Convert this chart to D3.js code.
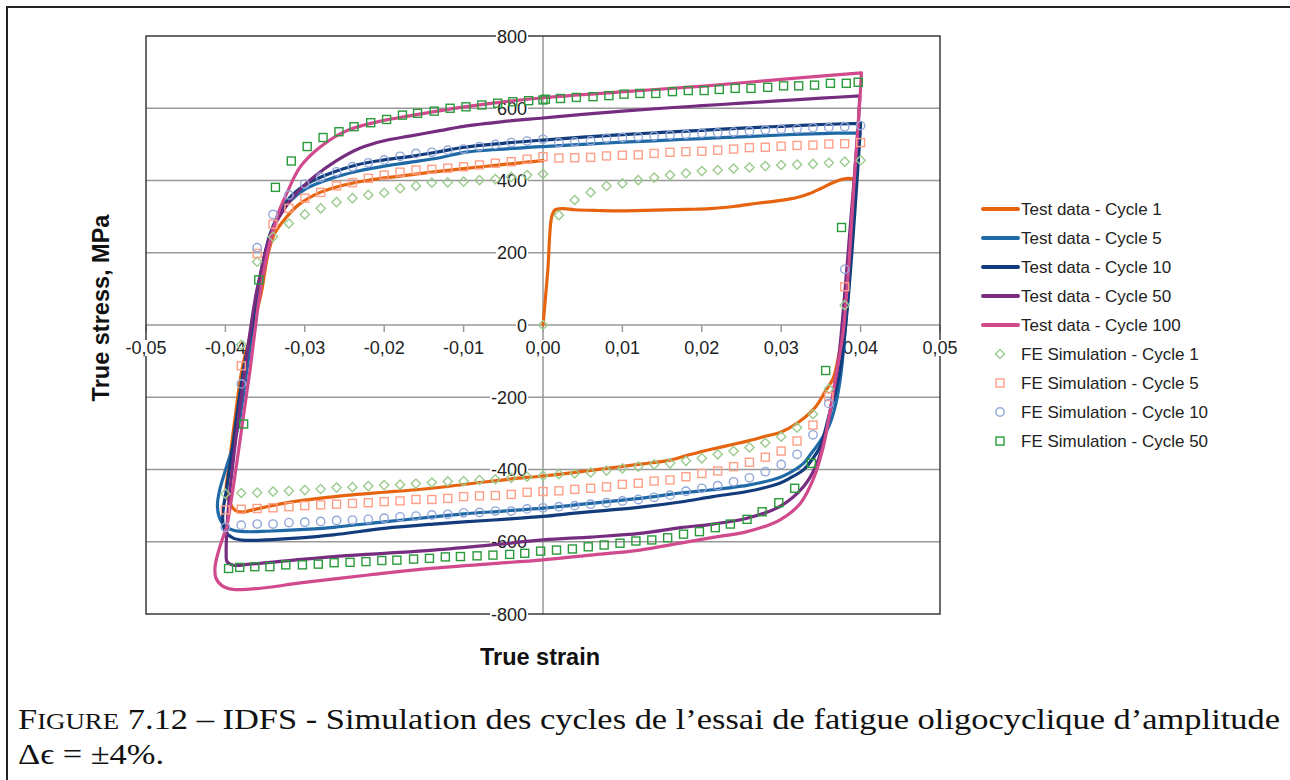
<!DOCTYPE html>
<html><head><meta charset="utf-8">
<script src="https://cdn.jsdelivr.net/npm/d3@7"></script>
<style>body{margin:0;background:#fff}svg{display:block}</style>
</head><body><svg id="c" width="1290" height="780"></svg>
<script>
// ---- tick labels / axes ----
const xTicks = [-0.05,-0.04,-0.03,-0.02,-0.01,0,0.01,0.02,0.03,0.04,0.05];
const xTickLabels = ["-0,05","-0,04","-0,03","-0,02","-0,01","0,00","0,01","0,02","0,03","0,04","0,05"];
const yTicks = [-800,-600,-400,-200,0,200,400,600,800];
const xTitle = "True strain";
const yTitle = "True stress, MPa";
const seriesNames = ["Test data - Cycle 1","Test data - Cycle 5","Test data - Cycle 10","Test data - Cycle 50","Test data - Cycle 100",
  "FE Simulation - Cycle 1","FE Simulation - Cycle 5","FE Simulation - Cycle 10","FE Simulation - Cycle 50"];

// ---- test data (strain, stress MPa) ----
const test1 = [[0,0],[0.0006,150],[0.0011,300],[0.0015,318],[0.0025,322],[0.004,319],[0.007,317],[0.010,316],[0.014,318],[0.018,320],[0.021,322],[0.024,328],[0.027,337],[0.030,345],[0.032,353],[0.0335,363],[0.035,378],[0.0365,394],[0.0378,404],[0.0388,405],[0.0393,400],
 [0.0389,300],[0.0383,130],[0.0378,0],[0.0372,-90],[0.0365,-150],[0.0357,-178],[0.0348,-212],[0.034,-235],[0.032,-272],[0.030,-296],[0.028,-308],[0.026,-320],[0.024,-330],[0.022,-340],[0.020,-350],[0.018,-362],[0.016,-374],[0.012,-386],[0.008,-397],[0.004,-408],[0,-418],
 [-0.004,-426],[-0.008,-436],[-0.012,-447],[-0.016,-456],[-0.020,-463],[-0.024,-470],[-0.028,-479],[-0.032,-491],[-0.035,-504],[-0.0368,-513],[-0.0378,-518],[-0.0387,-514],[-0.0394,-495],[-0.0399,-455],
 [-0.0396,-400],[-0.0388,-260],[-0.0378,-110],[-0.0365,0],[-0.0355,87],[-0.0346,200],[-0.0338,253],[-0.0323,299],[-0.0306,336],[-0.0285,363],[-0.026,382],[-0.0222,400],[-0.018,412],[-0.014,423],[-0.010,433],[-0.006,442],[-0.002,451],[0,455]];
const test5 = [[-0.0382,-263],[-0.0373,-125],[-0.0365,0],[-0.0358,100],[-0.0349,200],[-0.0335,296],[-0.0319,342],[-0.0298,378],[-0.0268,405],[-0.0235,425],[-0.020,440],[-0.0168,450],[-0.013,463],[-0.0099,478],[-0.005,487],[0,494],[0.005,500],[0.010,506],[0.015,511],[0.020,516],[0.025,521],[0.030,526],[0.035,530],[0.0399,532],
 [0.0395,420],[0.0388,200],[0.0381,0],[0.0375,-140],[0.0368,-225],[0.036,-280],[0.0349,-322],[0.0338,-355],[0.0328,-383],[0.031,-410],[0.0298,-422],[0.0275,-436],[0.0257,-444],[0.0214,-456],[0.0173,-465],[0.014,-475],[0.010,-485],[0.005,-496],[0,-507],
 [-0.005,-515],[-0.010,-523],[-0.0138,-531],[-0.020,-545],[-0.0264,-560],[-0.030,-566],[-0.0348,-571],[-0.0375,-572],[-0.039,-568],[-0.0401,-556],[-0.0408,-530],[-0.0410,-495],[-0.0407,-455],[-0.0399,-395],[-0.0391,-340],[-0.0382,-263]];
const test10 = [[-0.0385,-240],[-0.0376,-110],[-0.0366,0],[-0.0359,100],[-0.0351,190],[-0.0344,250],[-0.0334,302],[-0.032,350],[-0.0298,390],[-0.0268,420],[-0.0235,443],[-0.020,457],[-0.0168,466],[-0.013,480],[-0.0099,492],[-0.005,503],[0,512],[0.005,520],[0.010,527],[0.015,533],[0.020,539],[0.025,545],[0.030,550],[0.035,555],[0.0400,558],
 [0.0397,450],[0.039,230],[0.0383,40],[0.0376,-100],[0.0369,-180],[0.0361,-244],[0.0349,-337],[0.0338,-375],[0.0328,-401],[0.031,-425],[0.0298,-438],[0.0257,-461],[0.0214,-475],[0.0173,-490],[0.012,-505],[0.008,-513],[0.004,-521],[0,-530],
 [-0.005,-538],[-0.010,-545],[-0.0138,-551],[-0.020,-563],[-0.0264,-581],[-0.031,-590],[-0.0348,-595],[-0.0375,-596],[-0.039,-590],[-0.0399,-575],[-0.0403,-550],[-0.0403,-515],[-0.0399,-460],[-0.0392,-355],[-0.0385,-240]];
const test50 = [[-0.0394,-450],[-0.0386,-300],[-0.0377,-150],[-0.0369,-20],[-0.0361,90],[-0.0355,150],[-0.035,200],[-0.0342,258],[-0.0332,300],[-0.0315,354],[-0.0289,409],[-0.026,455],[-0.023,490],[-0.020,510],[-0.0168,523],[-0.013,538],[-0.010,550],[-0.005,563],[0,573],[0.005,583],[0.010,592],[0.015,600],[0.020,607],[0.025,614],[0.030,621],[0.035,628],[0.0399,634],
 [0.0396,520],[0.0388,300],[0.0379,60],[0.0372,-100],[0.0364,-210],[0.0357,-291],[0.0345,-383],[0.0328,-448],[0.0298,-503],[0.0257,-535],[0.0214,-551],[0.0173,-561],[0.0122,-577],[0.006,-587],[0,-595],
 [-0.007,-610],[-0.0138,-623],[-0.020,-632],[-0.0264,-641],[-0.032,-652],[-0.0369,-662],[-0.0390,-665],[-0.0398,-655],[-0.0399,-632],[-0.0398,-560],[-0.0394,-450]];
const test100 = [[-0.0398,-558],[-0.039,-448],[-0.0378,-263],[-0.0369,-125],[-0.0363,-20],[-0.0357,80],[-0.0347,200],[-0.0335,300],[-0.0323,363],[-0.0306,437],[-0.0281,492],[-0.0247,538],[-0.0201,566],[-0.0168,579],[-0.0099,604],[0,629],[0.0103,646],[0.0206,662],[0.030,680],[0.0401,698],
 [0.0399,620],[0.0392,400],[0.0384,130],[0.0378,-20],[0.0373,-90],[0.0368,-152],[0.0361,-244],[0.0353,-337],[0.034,-429],[0.0324,-494],[0.0298,-540],[0.0257,-572],[0.0214,-588],[0.0173,-604],[0.0122,-623],[0.006,-637],[0,-650],
 [-0.0138,-673],[-0.022,-692],[-0.0306,-714],[-0.0345,-726],[-0.0369,-731],[-0.039,-732],[-0.0404,-722],[-0.0412,-700],[-0.0413,-669],[-0.0407,-614],[-0.0398,-558]];

// ---- FE simulation (strain, stress MPa) ----
const fe1 = [[0,0],[0.002,304],[0.004,346],[0.006,367],[0.008,385],[0.010,392],[0.012,401],[0.014,408],[0.016,415],[0.018,420],[0.020,426],[0.022,429],[0.024,433],[0.026,436],[0.028,440],[0.030,443],[0.032,444],[0.034,446],[0.036,449],[0.038,452],[0.040,456],
 [0.038,55],[0.036,-177],[0.034,-247],[0.032,-284],[0.030,-309],[0.028,-326],[0.026,-339],[0.024,-349],[0.022,-358],[0.020,-369],[0.018,-376],[0.016,-383],[0.014,-386],[0.012,-392],[0.010,-397],[0.008,-403],[0.006,-408],[0.004,-411],[0.002,-413],[0,-417],
 [-0.002,-420],[-0.004,-423],[-0.006,-427],[-0.008,-429],[-0.010,-432],[-0.012,-433],[-0.014,-436],[-0.016,-439],[-0.018,-442],[-0.020,-443],[-0.022,-446],[-0.024,-449],[-0.026,-450],[-0.028,-454],[-0.030,-457],[-0.032,-459],[-0.034,-461],[-0.036,-464],[-0.038,-465],[-0.040,-467],
 [-0.038,-55],[-0.036,175],[-0.034,244],[-0.032,281],[-0.030,306],[-0.028,323],[-0.026,340],[-0.024,351],[-0.022,360],[-0.020,366],[-0.018,378],[-0.016,385],[-0.014,394],[-0.012,395],[-0.010,397],[-0.008,401],[-0.006,404],[-0.004,410],[-0.002,415],[0,418]];
const fe5 = [[0,466],[0.002,462],[0.004,463],[0.006,464],[0.008,468],[0.010,470],[0.012,471],[0.014,475],[0.016,478],[0.018,480],[0.020,481],[0.022,484],[0.024,487],[0.026,491],[0.028,492],[0.030,495],[0.032,497],[0.034,498],[0.036,501],[0.038,502],[0.040,505],
 [0.038,106],[0.036,-198],[0.034,-277],[0.032,-321],[0.030,-349],[0.028,-366],[0.026,-380],[0.024,-392],[0.022,-404],[0.020,-411],[0.018,-420],[0.016,-429],[0.014,-432],[0.012,-438],[0.010,-441],[0.008,-448],[0.006,-452],[0.004,-455],[0.002,-459],[0,-461],
 [-0.002,-463],[-0.004,-469],[-0.006,-472],[-0.008,-473],[-0.010,-475],[-0.012,-480],[-0.014,-483],[-0.016,-483],[-0.018,-487],[-0.020,-489],[-0.022,-492],[-0.024,-494],[-0.026,-496],[-0.028,-498],[-0.030,-500],[-0.032,-503],[-0.034,-506],[-0.036,-508],[-0.038,-510],[-0.040,-512],
 [-0.038,-113],[-0.036,198],[-0.034,279],[-0.032,323],[-0.030,351],[-0.028,367],[-0.026,385],[-0.024,394],[-0.022,406],[-0.020,415],[-0.018,423],[-0.016,429],[-0.014,431],[-0.012,434],[-0.010,438],[-0.008,443],[-0.006,448],[-0.004,452],[-0.002,459]];
const fe10 = [[0,514],[0.002,505],[0.004,507],[0.006,510],[0.008,517],[0.010,519],[0.012,521],[0.014,523],[0.016,526],[0.018,528],[0.020,531],[0.022,532],[0.024,534],[0.026,537],[0.028,540],[0.030,542],[0.032,543],[0.034,546],[0.036,547],[0.038,549],[0.040,552],
 [0.038,154],[0.036,-217],[0.034,-304],[0.032,-358],[0.030,-386],[0.028,-406],[0.026,-423],[0.024,-434],[0.022,-445],[0.020,-452],[0.018,-460],[0.016,-471],[0.014,-477],[0.012,-483],[0.010,-487],[0.008,-492],[0.006,-496],[0.004,-500],[0.002,-503],[0,-506],
 [-0.002,-509],[-0.004,-515],[-0.006,-515],[-0.008,-519],[-0.010,-520],[-0.012,-524],[-0.014,-526],[-0.016,-529],[-0.018,-531],[-0.020,-535],[-0.022,-538],[-0.024,-540],[-0.026,-541],[-0.028,-544],[-0.030,-546],[-0.032,-547],[-0.034,-551],[-0.036,-551],[-0.038,-554],[-0.040,-560],
 [-0.038,-163],[-0.036,214],[-0.034,306],[-0.032,360],[-0.030,390],[-0.028,409],[-0.026,424],[-0.024,438],[-0.022,449],[-0.020,457],[-0.018,467],[-0.016,475],[-0.014,478],[-0.012,484],[-0.010,487],[-0.008,494],[-0.006,500],[-0.004,505],[-0.002,509]];
const fe50 = [[0.0003,625],[0.0022,627],[0.0042,630],[0.0063,632],[0.0083,635],[0.0102,639],[0.0122,641],[0.0142,641],[0.0163,646],[0.0183,649],[0.0203,649],[0.0222,652],[0.0242,655],[0.0262,655],[0.0283,658],[0.0303,662],[0.0322,662],[0.0342,664],[0.0362,669],[0.0382,669],[0.0397,672],
 [0.0376,270],[0.0356,-126],[0.0338,-383],[0.0317,-452],[0.0297,-492],[0.0276,-517],[0.0257,-538],[0.0236,-551],[0.0217,-561],[0.0197,-572],[0.0177,-579],[0.0157,-589],[0.0137,-595],[0.0117,-598],[0.0097,-604],[0.0077,-609],[0.0057,-614],[0.0037,-620],[0.0017,-623],[-0.0003,-626],
 [-0.0023,-632],[-0.0042,-635],[-0.0063,-637],[-0.0083,-639],[-0.0104,-641],[-0.0123,-642],[-0.0143,-646],[-0.0163,-648],[-0.0184,-651],[-0.0203,-652],[-0.0223,-655],[-0.0243,-657],[-0.0263,-658],[-0.0283,-662],[-0.0303,-664],[-0.0324,-664],[-0.0344,-669],[-0.0363,-669],[-0.0382,-671],[-0.0396,-674],
 [-0.0377,-274],[-0.0358,125],[-0.0337,381],[-0.0317,454],[-0.0297,494],[-0.0277,519],[-0.0257,535],[-0.0238,549],[-0.0217,560],[-0.0197,569],[-0.0177,581],[-0.0158,586],[-0.0137,592],[-0.0117,600],[-0.0097,604],[-0.0077,609],[-0.0057,614],[-0.0038,618],[-0.0018,621],[0,623]];

const lineSeries = [
  {data:test1, color:"#e6640f"},
  {data:test5, color:"#1f69a6"},
  {data:test10, color:"#123c7b"},
  {data:test50, color:"#762d80"},
  {data:test100, color:"#d04a8d"}];
const markerSeries = [
  {data:fe1, color:"#9ccb8e", shape:"diamond"},
  {data:fe5, color:"#ff9f88", shape:"square"},
  {data:fe10, color:"#94a8d8", shape:"circle"},
  {data:fe50, color:"#2a9a3a", shape:"square"}];

const svg = d3.select("#c");
const L=146, R=940, T=36, B=614;
const x = d3.scaleLinear().domain([-0.05,0.05]).range([L,R]);
const y = d3.scaleLinear().domain([-800,800]).range([B,T]);
const sans = "'Liberation Sans', Arial, sans-serif";

// outer frame
svg.append("path").attr("d","M7,780 V7 H1290").attr("fill","none").attr("stroke","#222").attr("stroke-width",2);

// gridlines
svg.append("g").selectAll("line").data(yTicks.filter(v=>Math.abs(v)<800)).join("line")
  .attr("x1",L).attr("x2",R).attr("y1",d=>y(d)).attr("y2",d=>y(d))
  .attr("stroke","#999").attr("stroke-width",1.5);
svg.append("line").attr("x1",x(0)).attr("x2",x(0)).attr("y1",T).attr("y2",B).attr("stroke","#999").attr("stroke-width",1.5);
svg.append("g").selectAll("line").data(xTicks).join("line")
  .attr("x1",d=>x(d)).attr("x2",d=>x(d)).attr("y1",y(0)).attr("y2",y(0)+7)
  .attr("stroke","#999").attr("stroke-width",1.5);
svg.append("rect").attr("x",L).attr("y",T).attr("width",R-L).attr("height",B-T)
  .attr("fill","none").attr("stroke","#3a3a3a").attr("stroke-width",1.5);

function labelWithBg(g, txt, tx, ty, anchor){
  const t = g.append("text").attr("x",tx).attr("y",ty).attr("text-anchor",anchor)
    .attr("font-family",sans).attr("font-size",18).attr("fill","#222").text(txt);
  const bb = t.node().getBBox();
  g.insert("rect","text").attr("x",bb.x-1).attr("y",bb.y+2).attr("width",bb.width+2).attr("height",bb.height-4).attr("fill","#fff");
  t.raise();
}
const lab = svg.append("g");
yTicks.forEach(v=>{ const g=lab.append("g"); labelWithBg(g, String(v), 527, y(v)+6.5, "end"); });
xTicks.forEach((v,i)=>{ const g=lab.append("g"); labelWithBg(g, xTickLabels[i], x(v), y(0)+29, "middle"); });

// axis titles
svg.append("text").attr("transform",`translate(109,308) rotate(-90)`).attr("text-anchor","middle")
  .attr("font-family",sans).attr("font-weight","bold").attr("font-size",23.5).attr("fill","#111").text(yTitle);
svg.append("text").attr("x",x(0)-3).attr("y",665).attr("text-anchor","middle")
  .attr("font-family",sans).attr("font-weight","bold").attr("font-size",23.5).attr("fill","#111").text(xTitle);

// lines: smooth, but keep sharp corners at load reversals
const line = d3.line().x(d=>x(d[0])).y(d=>y(d[1])).curve(d3.curveCatmullRom.alpha(0.5));
function pathWithCorners(data){
  const segs=[]; let start=0;
  for(let i=1;i<data.length-1;i++){
    const ax=x(data[i][0])-x(data[i-1][0]), ay=y(data[i][1])-y(data[i-1][1]);
    const bx=x(data[i+1][0])-x(data[i][0]), by=y(data[i+1][1])-y(data[i][1]);
    const c=(ax*bx+ay*by)/Math.hypot(ax,ay)/Math.hypot(bx,by);
    if(Math.acos(Math.max(-1,Math.min(1,c)))>1.15){ segs.push(data.slice(start,i+1)); start=i; }
  }
  segs.push(data.slice(start));
  return segs.map(s=>line(s)).join("");
}
const lg = svg.append("g");
lineSeries.forEach(s=>{
  lg.append("path").attr("d",pathWithCorners(s.data)).attr("fill","none").attr("stroke",s.color)
    .attr("stroke-width",3.2).attr("stroke-linejoin","round").attr("stroke-linecap","round");
});

// markers
function drawMarker(g, shape, cx, cy, color){
  if(shape==="square") g.append("rect").attr("x",cx-4).attr("y",cy-4).attr("width",8).attr("height",8)
      .attr("fill","none").attr("stroke",color).attr("stroke-width",1.4);
  else if(shape==="circle") g.append("circle").attr("cx",cx).attr("cy",cy).attr("r",4.2)
      .attr("fill","none").attr("stroke",color).attr("stroke-width",1.4);
  else g.append("path").attr("d",`M${cx},${cy-4.6}L${cx+4.6},${cy}L${cx},${cy+4.6}L${cx-4.6},${cy}Z`)
      .attr("fill","none").attr("stroke",color).attr("stroke-width",1.4);
}
const mg = svg.append("g");
markerSeries.forEach(s=>{ s.data.forEach(d=>drawMarker(mg, s.shape, x(d[0]), y(d[1]), s.color)); });

// legend
const leg = svg.append("g");
seriesNames.forEach((name,i)=>{
  const cy = 209 + 29*i;
  if(i<5){
    leg.append("line").attr("x1",983).attr("x2",1018).attr("y1",cy).attr("y2",cy)
      .attr("stroke",lineSeries[i].color).attr("stroke-width",4).attr("stroke-linecap","round");
  } else {
    const s = markerSeries[i-5];
    drawMarker(leg, s.shape, 1000, cy, s.color);
  }
  leg.append("text").attr("x",1021).attr("y",cy+6).attr("font-family",sans).attr("font-size",17)
    .attr("fill","#222").text(name);
});

// caption
const serif = "'Liberation Serif', 'DejaVu Serif', serif";
const capSize = 29.5;
const cap = svg.append("text").attr("x",18).attr("y",729).attr("font-family",serif).attr("font-size",capSize).attr("fill","#111");
cap.append("tspan").text("F");
cap.append("tspan").attr("font-size","0.78em").text("IGURE");
cap.append("tspan").text(" 7.12 – IDFS - Simulation des cycles de l’essai de fatigue oligocyclique d’amplitude");
const w = cap.node().getComputedTextLength();
const k = 1262/w;
cap.attr("textLength",1262).attr("lengthAdjust","spacingAndGlyphs");
const cap2 = svg.append("text").attr("x",18).attr("y",764).attr("font-family",serif).attr("font-size",capSize).attr("fill","#111")
  .text("Δϵ = ±4%.");
const w2 = cap2.node().getComputedTextLength();
cap2.attr("textLength",w2*k).attr("lengthAdjust","spacingAndGlyphs");
</script></body></html>
